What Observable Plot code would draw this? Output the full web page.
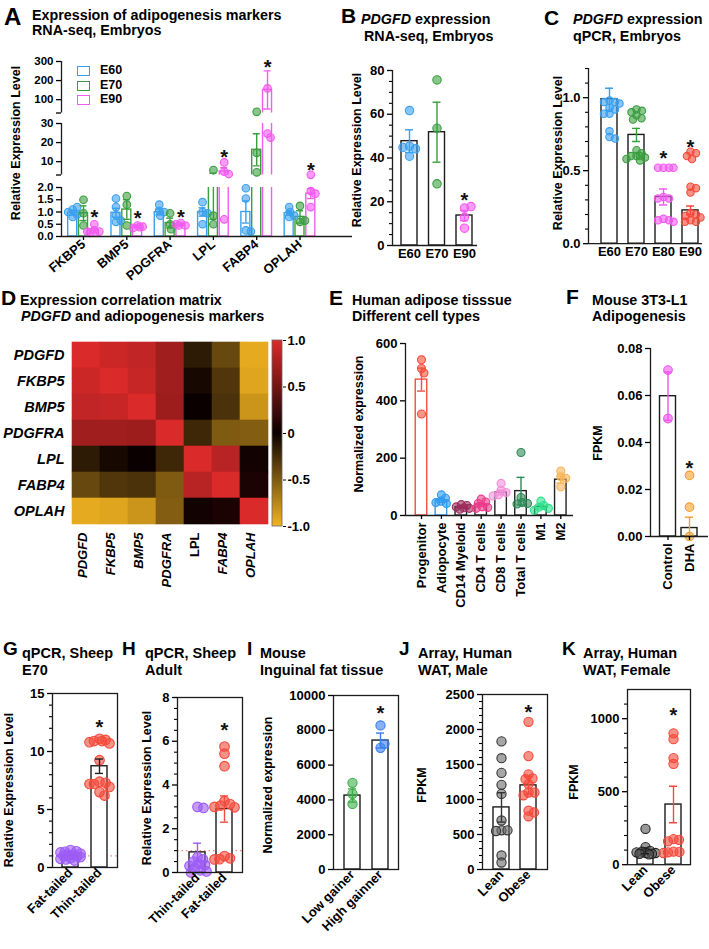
<!DOCTYPE html>
<html><head><meta charset="utf-8">
<script src="https://cdn.jsdelivr.net/npm/d3@7"></script>
<script src="https://cdn.jsdelivr.net/npm/@observablehq/plot@0.6"></script>
<style>
body{margin:0;background:#fff;}
#fig{position:relative;width:709px;height:949px;overflow:hidden;font-family:'Liberation Sans',Arial,Helvetica,sans-serif;color:#000;}
.t{position:absolute;font-weight:bold;white-space:nowrap;}
.ylab{position:absolute;font-weight:bold;white-space:nowrap;transform:translate(-50%,-50%) rotate(-90deg);}
.lg{position:absolute;box-sizing:border-box;border:1.4px solid;background:#fff;}
</style></head>
<body><div id="fig"></div>
<script>
// ================= DATA =================
// Panel A
const aGenes = ["FKBP5","BMP5","PDGFRA","LPL","FABP4","OPLAH"];
const aStages = ["E60","E70","E90"];
const aPtsE60 = [[0.8,1.1,1.2,0.9,1.0],[1.55,1.2,0.6,0.65,0.85],[1.3,1.05,0.85,1.0],[1.4,1.0,0.95,0.5],[1.97,1.55,0.25,0.2],[0.8,0.85,1.0,1.2]];
const aPtsE70 = [[1.5,0.95,0.45],[1.65,1.3,0.45],[0.95,0.5,0.3],[5.6,0.85,0.5],[36,14.6,4.4],[1.25,0.6,0.65]];
const aPtsE90 = [[0.5,0.25,0.2,0.15,0.2],[0.45,0.4,0.35,0.38],[0.55,0.45,0.5,0.45],[9.6,4.7,3.5,0.7],[159,24.7,22.6],[3.1,1.85,1.75,1.2]];
const aMeanE60 = [0.97,0.97,1.0,1.0,1.0,0.95];
const aSemE60 = [0.1,0.18,0.12,0.17,0.45,0.08];
const aMeanE70 = [0.95,1.1,0.55,2.3,16.2,0.8];
const aSemE70 = [0.3,0.4,0.2,1.6,8.4,0.25];
const aMeanE90 = [0.25,0.4,0.5,4.9,151,1.75];
const aSemE90 = [0.08,0.03,0.03,1.9,100,0.2];
const aStarY = [0.98,0.94,0.98,14.9,296,7.9];
// Panel B
const bStages = ["E60","E70","E90"];
const bPts = [[61.7,45.4,40.8,44.2,44.8],[75.7,53.6,28.2],[17.1,17.8,12.9,7.9]];
const bMean = [47.7,51.8,13.7];
const bSem = [5.2,13.7,2.3];
const bStarY = [null,null,23];
// Panel C
const cStages = ["E60","E70","E80","E90"];
const cPts = [[0.98,0.97,0.97,0.96,0.93,0.92,0.89,0.89,0.77,0.73,0.72],
  [0.92,0.91,0.9,0.88,0.86,0.85,0.64,0.62,0.6,0.6,0.59,0.58,0.57,0.6],
  [0.52,0.52,0.52,0.52,0.32,0.31,0.31,0.17,0.16,0.16,0.15],
  [0.63,0.62,0.6,0.58,0.39,0.38,0.35,0.21,0.2,0.19,0.18,0.16,0.15,0.15]];
const cMean = [0.99,0.745,0.32,0.228];
const cSem = [0.075,0.045,0.055,0.03];
const cStarY = [null,null,0.62,0.69];
// Panel D
const dGenes = ["PDGFD","FKBP5","BMP5","PDGFRA","LPL","FABP4","OPLAH"];
const dCorr = [
  [1.00,0.93,0.88,0.72,-0.15,-0.40,-0.95],
  [0.93,1.00,0.90,0.72,-0.05,-0.30,-0.92],
  [0.88,0.90,1.00,0.70,0.00,-0.28,-0.83],
  [0.72,0.72,0.70,1.00,-0.22,-0.50,-0.52],
  [-0.15,-0.05,0.00,-0.22,1.00,0.83,0.04],
  [-0.40,-0.30,-0.28,-0.50,0.83,1.00,0.08],
  [-0.95,-0.92,-0.83,-0.52,0.04,0.08,1.00]];
const dScaleTicks = [-1,-0.5,0,0.5,1];
const dTickLabels = ["-1.0","-0.5","0","0.5","1.0"];
// Panel E
const eCells = ["Progenitor","Adiopocyte","CD14 Myeloid","CD4 T cells","CD8 T cells","Total T cells","M1","M2"];
const ePts = [[543,513,497,354],[72,60,50,45,42],[38,35,30,27,25,22],[57,47,42,30,28,25],[112,88,80,72,68],[220,63,45,40,42],[50,35,29,25,18],[155,135,130,100]];
const eMean = [474,52,29,38,80,85,30,125];
const eSem = [40,6,3,6,8,48,6,12];
// Panel F
const fGroups = ["Control","DHA"];
const fPts = [[0.0708,0.0502],[0.026,0.0125,0.0]];
const fMean = [0.0597,0.0036];
const fSem = [0.0103,0.0046];
const fStarY = [null,0.031];
// Panel G
const gGroups = ["Fat-tailed","Thin-tailed"];
const gPts = [[1.5,1.4,1.35,1.3,1.2,1.1,1.05,1.0,0.95,0.9,0.8,0.75,0.7,0.6],[11.1,11.0,10.9,10.8,10.7,10.9,9.25,7.4,7.3,7.2,7.2,6.95,6.5,6.2]];
const gMean = [1.0,8.73];
const gSem = [0.08,0.62];
const gStarY = [null,12.5];
// Panel H
const hGroups = ["Thin-tailed","Fat-tailed"];
const hPts = [[3.0,2.95,0.7,0.6,0.5,0.4,0.35,0.3,0.2,0.1,0.05,0.0],[5.76,5.43,4.86,3.26,3.13,3.06,3.0,2.98,0.75,0.65,0.61,0.6]];
const hMean = [0.92,2.9];
const hSem = [0.42,0.6];
const hStarY = [null,6.7];
// Panel I
const iGroups = ["Low gainer","High gainner"];
const iPts = [[4980,4350,3770],[8280,6990,7220]];
const iMean = [4250,7410];
const iSem = [380,430];
const iStarY = [null,9270];
// Panel J
const jGroups = ["Lean","Obese"];
const jPts = [[1830,1590,1380,1210,1080,700,560,560,550,200,100],[2110,1620,1360,1300,1290,1220,1100,1100,1060,840,815,760]];
const jMean = [887,1202];
const jSem = [210,125];
const jStarY = [null,2318];
// Panel K
const kGroups = ["Lean","Obese"];
const kPts = [[245,120,95,90,85,80,80,75,75,70],[900,860,730,690,175,170,160,90,88,85,80]];
const kMean = [95,412];
const kSem = [20,125];
const kStarY = [null,1057];

// ================= STYLE =================
const FONT = "'Liberation Sans', Arial, Helvetica, sans-serif";
const BLUE = "#3aa0ee", GREEN = "#3a9e3f", MAG = "#f25cf0", RED = "#f44a3a", PURP = "#9d5cf5";
const dColorRange = ["#f2b322","#0b0000","#db2a2a"];
const fig = document.getElementById("fig");

function place(el, left, top) {
  el.style.position = "absolute"; el.style.left = left + "px"; el.style.top = top + "px";
  fig.appendChild(el);
}
function addText(html, x, baseline, size) {
  const d = document.createElement("div");
  d.className = "t"; d.style.fontSize = size + "px"; d.style.lineHeight = size + "px";
  d.innerHTML = html;
  place(d, x, baseline - 0.846 * size);
}
function addYLabel(text, cx, cy, size = 12.5) {
  const d = document.createElement("div");
  d.className = "ylab"; d.style.fontSize = size + "px"; d.style.lineHeight = size + "px";
  d.textContent = text;
  place(d, cx, cy);
}
// deterministic beeswarm (layout only), offsets limited to +/- maxOff px
function swarm(pys, r, k, maxOff) {
  const placed = [], out = [];
  pys.forEach(y => {
    let off = 0, bestD = -1;
    for (let n = 0; n < 400; n++) {
      const c = n === 0 ? 0 : (n % 2 ? 1 : -1) * Math.ceil(n / 2) * 0.5;
      if (Math.abs(c) > maxOff) break;
      const d = placed.length ? Math.min(...placed.map(p => Math.hypot(p.x - c, p.y - y))) : Infinity;
      if (d >= k * r) { off = c; bestD = d; break; }
      if (d > bestD) { bestD = d; off = c; }
    }
    placed.push({x: off, y}); out.push(off);
  });
  return out;
}
function mkGroups(pts, mean, sem, colors, extra = {}) {
  return pts.map((p, i) => ({x: i, pts: p, mean: mean[i], sem: sem[i], color: colors[i],
    barStroke: extra.barStroke ? extra.barStroke[i] : undefined,
    err: extra.err ? extra.err[i] : undefined,
    dotStroke: extra.dotStroke ? extra.dotStroke[i] : undefined}));
}
function mkStars(ys) { return ys.map((y, i) => ({x: i, y})).filter(d => d.y != null); }

function barChart(p) {
  const ml = p.ml ?? 50, mr = p.mr ?? 8, mt = p.mt ?? 12, mb = p.mb ?? 90;
  const W = ml + (p.endX - p.axisX) + mr;
  const H = mt + (p.y0px - p.y1px) + mb;
  const xdom = [(p.axisX - p.c0) / p.step, (p.endX - p.c0) / p.step];
  const [lo, hi] = p.ydom;
  const k = (p.y0px - p.y1px) / (hi - lo);
  const yPx = v => (hi - v) * k;
  const hw = p.barW / 2 / p.step, cap = (p.cap ?? 4) / p.step;
  const r = p.r ?? 4;
  const keep = p.keep ?? (() => true);
  const dots = [];
  p.groups.forEach(g => {
    const pts = g.pts.filter(keep);
    const offs = swarm(pts.map(yPx), r, p.sep ?? 1.5, p.maxOff ?? 14);
    pts.forEach((v, j) => dots.push({x: g.x + offs[j] / p.step, y: v, fill: g.color, stroke: g.dotStroke ?? g.color}));
  });
  const AX = "#1c1c1c";
  const err = d => d.err ?? d.color;
  const marks = [];
  if (p.ref != null) marks.push(Plot.ruleY([p.ref], {x1: xdom[0], x2: xdom[1], stroke: "#f08a80", strokeWidth: 1.4, strokeDasharray: "1.5,3"}));
  marks.push(Plot.rect(p.groups, {x1: d => d.x - hw, x2: d => d.x + hw, y1: p.base ?? 0, y2: "mean", fill: "white", stroke: d => d.barStroke ?? AX, strokeWidth: 1.4, clip: true}));
  marks.push(Plot.dot(dots, {x: "x", y: "y", r, fill: "fill", fillOpacity: p.fo ?? 0.6, stroke: "stroke", strokeWidth: 1.1}));
  marks.push(Plot.ruleX(p.groups, {x: "x", y1: d => d.mean - d.sem, y2: d => d.mean + d.sem, stroke: err, strokeWidth: 1.4, clip: true}));
  marks.push(Plot.ruleY(p.groups, {y: d => d.mean + d.sem, x1: d => d.x - cap, x2: d => d.x + cap, stroke: err, strokeWidth: 1.4, clip: true}));
  marks.push(Plot.ruleY(p.groups, {y: d => d.mean - d.sem, x1: d => d.x - cap, x2: d => d.x + cap, stroke: err, strokeWidth: 1.4, clip: true}));
  if (p.stars && p.stars.length) marks.push(Plot.text(p.stars, {x: "x", y: "y", text: () => "*", fontSize: 20, fontWeight: "bold", dy: 5, fill: "#111"}));
  if (p.frame) marks.push(Plot.frame({stroke: AX, strokeWidth: 1.3}));
  else {
    marks.push(Plot.ruleX([xdom[0]], {y1: lo, y2: hi, stroke: AX, strokeWidth: 1.3}));
    if (p.xline !== false) marks.push(Plot.ruleY([lo], {x1: xdom[0], x2: xdom[1], stroke: AX, strokeWidth: 1.3}));
  }
  marks.push(Plot.axisY({ticks: p.ticks, tickFormat: p.fmt ?? (d => String(d)), tickSize: 5, tickPadding: 3, label: null, strokeWidth: 1.3, fontSize: p.yfs}));
  if (p.minor) marks.push(Plot.axisY({ticks: p.minor, tickFormat: () => "", tickSize: 3, label: null, strokeWidth: 1.1}));
  if (p.cats) marks.push(Plot.axisX({ticks: p.cats.map((c, i) => i), tickFormat: i => p.cats[Math.round(i)], tickSize: p.xts ?? 0, tickPadding: p.xpad ?? 3, tickRotate: p.rot ?? 0, label: null, strokeWidth: 1.3}));
  const svg = Plot.plot({width: W, height: H, marginLeft: ml, marginRight: mr, marginTop: mt, marginBottom: mb,
    x: {domain: xdom, axis: null}, y: {domain: p.ydom, axis: null}, color: {type: "identity"},
    style: {fontFamily: FONT, fontSize: (p.fs ?? 13) + "px", fontWeight: "bold", color: "#000", background: "none", overflow: "visible"},
    marks});
  place(svg, p.axisX - ml, p.y1px - mt);
  return svg;
}

// ================= PANEL A (broken axis: three segments) =================
const aColors = [BLUE, GREEN, MAG];
const aPtsAll = [aPtsE60, aPtsE70, aPtsE90], aMeanAll = [aMeanE60, aMeanE70, aMeanE90], aSemAll = [aSemE60, aSemE70, aSemE90];
const aGroups = [];
aGenes.forEach((gname, g) => aStages.forEach((st, s) => aGroups.push({
  x: g + (s - 1) * 0.25, pts: aPtsAll[s][g], mean: aMeanAll[s][g], sem: aSemAll[s][g], color: aColors[s], barStroke: aColors[s]})));
const aStars = aStarY.map((y, g) => ({x: g + 0.25, y}));
const aCommon = {axisX: 61, endX: 352, c0: 83, step: 43.3, barW: 9, r: 3.8, cap: 3.5, sep: 1.3, maxOff: 7, groups: aGroups, yfs: 11.5};
barChart({...aCommon, ydom: [0, 2], y0px: 236, y1px: 187, ticks: [0, 0.5, 1, 1.5, 2], fmt: d3.format(".1f"),
  keep: v => v <= 2.5, stars: aStars.filter(d => d.y <= 2.5), cats: aGenes, rot: -40, xts: 4, xpad: 2, mb: 70});
barChart({...aCommon, ydom: [3, 30], y0px: 174.5, y1px: 123, ticks: [3, 10, 20, 30], fmt: v => v === 3 ? "" : String(v),
  keep: v => v > 2.5 && v <= 31, stars: aStars.filter(d => d.y > 2.5 && d.y <= 31), xline: false, mb: 4, mt: 4});
barChart({...aCommon, ydom: [30, 300], y0px: 112.5, y1px: 61, ticks: [30, 100, 200, 300], fmt: v => v === 30 ? "" : String(v),
  keep: v => v > 31, stars: aStars.filter(d => d.y > 31), xline: false, mb: 4, mt: 8});
// legend A
[[66, 75, "E60"], [81, 89.5, "E70"], [95, 104, "E90"]].forEach(([top, base, lab], i) => {
  const sq = document.createElement("div"); sq.className = "lg";
  sq.style.width = "13px"; sq.style.height = "9.5px"; sq.style.borderColor = aColors[i];
  place(sq, 77, top);
  addText(lab, 100, base, 12.5);
});

// ================= PANEL B =================
barChart({axisX: 392, endX: 477, c0: 409, step: 27.5, barW: 16, y0px: 245, y1px: 70, ydom: [0, 80],
  ticks: [0, 20, 40, 60, 80], minor: d3.range(5, 80, 5).filter(v => v % 20), r: 4.2, maxOff: 10,
  groups: mkGroups(bPts, bMean, bSem, [BLUE, GREEN, MAG]), stars: mkStars(bStarY), cats: bStages, mb: 30});

// ================= PANEL C =================
barChart({axisX: 588, endX: 702, c0: 609, step: 27, barW: 16, y0px: 243, y1px: 67.8, ydom: [0, 1.2],
  ticks: [0, 0.5, 1], fmt: d3.format(".1f"), minor: [0.1,0.2,0.3,0.4,0.6,0.7,0.8,0.9,1.1,1.2], r: 3.7, sep: 1.45, maxOff: 10,
  groups: mkGroups(cPts, cMean, cSem, [BLUE, GREEN, MAG, RED]), stars: mkStars(cStarY), cats: cStages, mb: 30, mr: 4});

// ================= PANEL D (heatmap) =================
const dCells = [];
dGenes.forEach((rw, i) => dGenes.forEach((cl, j) => dCells.push({row: rw, col: cl, v: dCorr[i][j]})));
{
  const svg = Plot.plot({width: 270, height: 4 + 187 + 70, marginLeft: 69, marginRight: 0, marginTop: 4, marginBottom: 70,
    x: {domain: dGenes, padding: 0, axis: null}, y: {domain: dGenes, padding: 0, axis: null},
    color: {type: "linear", domain: [-1, 0, 1], range: dColorRange},
    style: {fontFamily: FONT, fontSize: "13px", fontWeight: "bold", color: "#000", background: "none", overflow: "visible"},
    marks: [
      Plot.cell(dCells, {x: "col", y: "row", fill: "v", stroke: "v", strokeWidth: 0.6, inset: 0}),
      Plot.text(dGenes, {y: d => d, frameAnchor: "left", dx: -5, textAnchor: "end", fontStyle: "italic", fontSize: 14.5}),
      Plot.text(dGenes.filter(g => g !== "LPL"), {x: d => d, frameAnchor: "bottom", rotate: -90, textAnchor: "end", dy: 6, fontStyle: "italic", fontSize: 13}),
      Plot.text(["LPL"], {x: d => d, frameAnchor: "bottom", rotate: -90, textAnchor: "end", dy: 6, fontSize: 13})
    ]});
  place(svg, 0, 335);
}
// colorbar
{
  const svg = Plot.plot({width: 40, height: 4 + 186 + 6, marginLeft: 0, marginRight: 30, marginTop: 4, marginBottom: 6,
    x: {domain: [0, 1], axis: null}, y: {domain: [-1, 1], axis: null},
    style: {fontFamily: FONT, fontSize: "13px", fontWeight: "bold", color: "#000", background: "none", overflow: "visible"},
    marks: [
      Plot.rect([0], {x1: 0, x2: 1, y1: -1, y2: 1, fill: "url(#dcbar)", stroke: "#666", strokeWidth: 0.8}),
      Plot.axisY({anchor: "right", ticks: dScaleTicks, tickFormat: v => dTickLabels[dScaleTicks.indexOf(v)], tickSize: 3, tickPadding: 2, label: null})
    ]});
  const NS = "http://www.w3.org/2000/svg";
  const defs = document.createElementNS(NS, "defs");
  const lg = document.createElementNS(NS, "linearGradient");
  lg.setAttribute("id", "dcbar"); lg.setAttribute("x1", "0"); lg.setAttribute("y1", "1"); lg.setAttribute("x2", "0"); lg.setAttribute("y2", "0");
  dColorRange.forEach((c, i) => {
    const st = document.createElementNS(NS, "stop");
    st.setAttribute("offset", String(i / (dColorRange.length - 1))); st.setAttribute("stop-color", c);
    lg.appendChild(st);
  });
  defs.appendChild(lg); svg.insertBefore(defs, svg.firstChild);
  place(svg, 272, 336);
}

// ================= PANEL E =================
const eColors = ["#f4503c","#2f9bf0","#9b2d5e","#ee3c8c","#f28fd8","#2e8b57","#2fe08a","#f7b55a"];
barChart({axisX: 405, endX: 573, c0: 421, step: 19.9, barW: 11.5, y0px: 515, y1px: 343, ydom: [0, 600],
  ticks: [0, 200, 400, 600], r: 4, sep: 1.3, maxOff: 8,
  groups: mkGroups(ePts, eMean, eSem, eColors, {barStroke: ["#f4503c","#2f9bf0","#222","#222","#222","#222","#222","#222"]}),
  cats: eCells, rot: -90, xts: 4, xpad: 3, mb: 100});

// ================= PANEL F =================
barChart({axisX: 650, endX: 708, c0: 667.5, step: 21.5, barW: 16, y0px: 536, y1px: 348, ydom: [0, 0.08],
  ticks: [0, 0.02, 0.04, 0.06, 0.08], fmt: d3.format(".2f"), r: 4.3, mr: 1, maxOff: 8,
  groups: mkGroups(fPts, fMean, fSem, ["#ee55ee", "#f5a030"]), stars: mkStars(fStarY), cats: fGroups, rot: -90, xts: 4, mb: 70});

// ================= PANELS G-K =================
const bottomCommon = {barW: 16, frame: true, rot: -45, r: 4.8, sep: 1.2, maxOff: 10, fs: 13, mb: 90};
barChart({...bottomCommon, axisX: 52, endX: 117, c0: 70, step: 29, y0px: 867, y1px: 693, ydom: [0, 15],
  ticks: [0, 5, 10, 15], minor: d3.range(1, 15).filter(v => v % 5), ref: 1,
  groups: mkGroups(gPts, gMean, gSem, [PURP, RED], {err: [PURP, "#222"]}), stars: mkStars(gStarY), cats: gGroups});
barChart({...bottomCommon, axisX: 177, endX: 242, c0: 197, step: 27, y0px: 872, y1px: 697, ydom: [0, 8],
  ticks: [0, 2, 4, 6, 8], minor: d3.range(0.5, 8, 0.5).filter(v => v % 2), ref: 1,
  groups: mkGroups(hPts, hMean, hSem, [PURP, RED]), stars: mkStars(hStarY), cats: hGroups});
barChart({...bottomCommon, axisX: 333, endX: 398, c0: 352, step: 28, y0px: 869, y1px: 695, ydom: [0, 10000],
  ticks: [0, 2000, 4000, 6000, 8000, 10000], r: 4.6,
  groups: mkGroups(iPts, iMean, iSem, ["#3fae49", "#3b7ff0"]), stars: mkStars(iStarY), cats: iGroups});
barChart({...bottomCommon, axisX: 482, endX: 547, c0: 501, step: 27, y0px: 869, y1px: 694, ydom: [0, 2500],
  ticks: [0, 500, 1000, 1500, 2000, 2500], minor: d3.range(100, 2500, 100).filter(v => v % 500), r: 4.6,
  groups: mkGroups(jPts, jMean, jSem, ["#6a6a6a", RED], {err: ["#333", RED], dotStroke: ["#333", RED]}), stars: mkStars(jStarY), cats: jGroups});
barChart({...bottomCommon, axisX: 627, endX: 690, c0: 645, step: 28, y0px: 864, y1px: 688.8, ydom: [0, 1200],
  ticks: [0, 500, 1000], minor: d3.range(100, 1200, 100).filter(v => v % 500), r: 4.6,
  groups: mkGroups(kPts, kMean, kSem, ["#555555", RED], {err: ["#222", RED], dotStroke: ["#222", RED]}), stars: mkStars(kStarY), cats: kGroups});

// ================= TEXT =================
const TS = 14.3;
addText("A", 4, 25, 24);
addText("Expression of adipogenesis markers", 32, 20, TS);
addText("RNA-seq, Embryos", 32, 35.5, TS);
addText("B", 341, 23, 21);
addText("<i>PDGFD</i> expression", 361, 24, TS);
addText("RNA-seq, Embryos", 364, 41, TS);
addText("C", 544, 25, 21);
addText("<i>PDGFD</i> expression", 573, 24, TS);
addText("qPCR, Embryos", 573, 41, TS);
addText("D", 1, 305, 21);
addText("Expression correlation matrix", 20, 305, TS);
addText("<i>PDGFD</i> and adiopogenesis markers", 21, 321, TS);
addText("E", 329, 305, 21);
addText("Human adipose tisssue", 352, 305, TS);
addText("Different cell types", 352, 321, TS);
addText("F", 566, 304, 21);
addText("Mouse 3T3-L1", 592, 305, TS);
addText("Adipogenesis", 592, 321, TS);
[["G", 3, 22, "qPCR, Sheep", "E70"], ["H", 122, 145, "qPCR, Sheep", "Adult"], ["I", 247, 260, "Mouse", "Inguinal fat tissue"],
 ["J", 399, 418, "Array, Human", "WAT, Male"], ["K", 562, 583, "Array, Human", "WAT, Female"]].forEach(([L, lx, tx, l1, l2]) => {
  addText(L, lx, 655, 19);
  addText(l1, tx, 658, 14.5);
  addText(l2, tx, 675, 14.5);
});
addYLabel("Relative Expression Level", 15.5, 143);
addYLabel("Relative Expression Level", 356.5, 150);
addYLabel("Relative Expression Level", 558, 153);
addYLabel("Normalized expression", 359, 424);
addYLabel("FPKM", 598, 443);
addYLabel("Relative Expression Level", 9, 790);
addYLabel("Relative Expression Level", 147, 788);
addYLabel("Normalized expression", 267.5, 785);
addYLabel("FPKM", 422, 785);
addYLabel("FPKM", 574, 782);
</script>
</body></html>
